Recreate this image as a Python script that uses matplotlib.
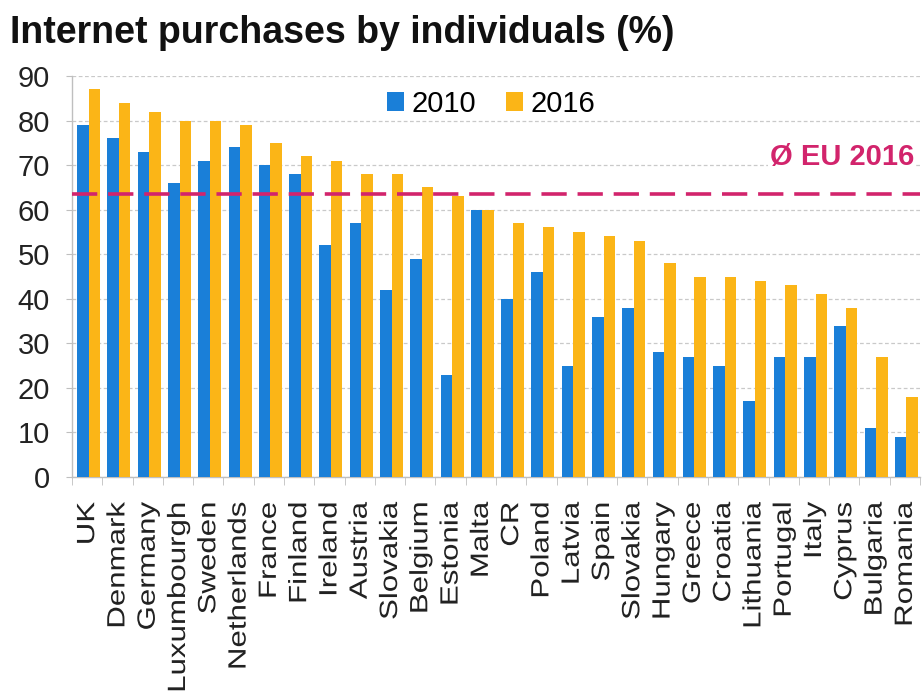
import matplotlib
matplotlib.use("Agg")
import matplotlib.pyplot as plt
import numpy as np
from matplotlib.patches import Patch
from matplotlib.patheffects import AbstractPathEffect
from matplotlib.transforms import Affine2D

countries = ["UK", "Denmark", "Germany", "Luxumbourgh", "Sweden", "Netherlands",
             "France", "Finland", "Ireland", "Austria", "Slovakia", "Belgium",
             "Estonia", "Malta", "CR", "Poland", "Latvia", "Spain", "Slovakia",
             "Hungary", "Greece", "Croatia", "Lithuania", "Portugal", "Italy",
             "Cyprus", "Bulgaria", "Romania"]
share_2010 = [79, 76, 73, 66, 71, 74, 70, 68, 52, 57, 42, 49, 23, 60, 40, 46,
              25, 36, 38, 28, 27, 25, 17, 27, 27, 34, 11, 9]
share_2016 = [87, 84, 82, 80, 80, 79, 75, 72, 71, 68, 68, 65, 63, 60, 57, 56,
              55, 54, 53, 48, 45, 45, 44, 43, 41, 38, 27, 18]
eu_2016 = 63.5
yticks = [0, 10, 20, 30, 40, 50, 60, 70, 80, 90]

BLUE = "#1A7FD8"
ORANGE = "#FBB517"
MAGENTA = "#D2246C"
GRID = "#C9C9C9"

plt.rcParams["font.family"] = ["Liberation Sans", "DejaVu Sans"]


class AlongStretch(AbstractPathEffect):
    """Stretch glyphs along the writing direction, keeping the text end fixed."""

    def __init__(self, factor):
        super().__init__()
        self.factor = factor

    def draw_path(self, renderer, gc, tpath, affine, rgbFace=None):
        v = tpath.vertices
        x1 = v[:, 0].max() if len(v) else 0.0
        pre = Affine2D().translate(-x1, 0).scale(self.factor, 1.0).translate(x1, 0)
        renderer.draw_path(gc, tpath, pre + affine, rgbFace)


fig = plt.figure(figsize=(9.22, 6.95), dpi=100)
ax = fig.add_axes([72 / 922, 1 - 477 / 695, (920 - 72) / 922, (477 - 76) / 695])

x = np.arange(len(countries))
w = 0.38
ax.bar(x - w / 2 + 0.05, share_2010, width=w, color=BLUE, zorder=3)
ax.bar(x + w / 2 + 0.05, share_2016, width=w, color=ORANGE, zorder=3)

ax.set_xlim(-0.5, len(countries) - 0.5)
ax.set_ylim(0, 90)
ax.set_yticks(yticks)
ax.set_yticklabels([str(t) for t in yticks], fontsize=21, color="#222222")
ax.yaxis.grid(True, color=GRID, linestyle=(0, (3, 2)), linewidth=0.9, zorder=0)
ax.set_axisbelow(True)

for side in ("top", "right"):
    ax.spines[side].set_visible(False)
for side in ("left", "bottom"):
    ax.spines[side].set_color("#BFBFBF")
    ax.spines[side].set_linewidth(1.0)

ax.tick_params(axis="y", length=4, color="#BFBFBF", pad=12)
ax.set_xticks(x)
ax.set_xticklabels(countries, rotation=90, fontsize=18, color="#222222")
ax.tick_params(axis="x", which="major", length=0, pad=18)
ax.set_xticks(np.arange(len(countries) + 1) - 0.5, minor=True)
ax.tick_params(axis="x", which="minor", length=6, color="#BFBFBF")
for lab in ax.get_xticklabels():
    lab.set_path_effects([AlongStretch(1.25)])

# EU average
ax.axhline(eu_2016, color=MAGENTA, linewidth=2.6, linestyle=(0, (7, 3)), zorder=4)
ax.text(0.993, 71.8, "Ø EU 2016", transform=ax.get_yaxis_transform(),
        ha="right", va="center", fontsize=21, fontweight="bold", color=MAGENTA,
        bbox=dict(facecolor="white", edgecolor="none", pad=1), zorder=5)

handles = [Patch(facecolor=BLUE), Patch(facecolor=ORANGE)]
fig.legend(handles, ["2010", "2016"], loc="center",
           bbox_to_anchor=(491 / 922, 1 - 104 / 695), ncol=2, frameon=False,
           fontsize=21, handlelength=0.6, handleheight=0.6, handletextpad=0.25,
           columnspacing=1.0)

fig.text(10 / 922, 1 - 43 / 695, "Internet purchases by individuals (%)",
         fontsize=27, fontweight="bold", ha="left", va="baseline", color="#111111")

fig.savefig("out.png", dpi=100, facecolor="white")
